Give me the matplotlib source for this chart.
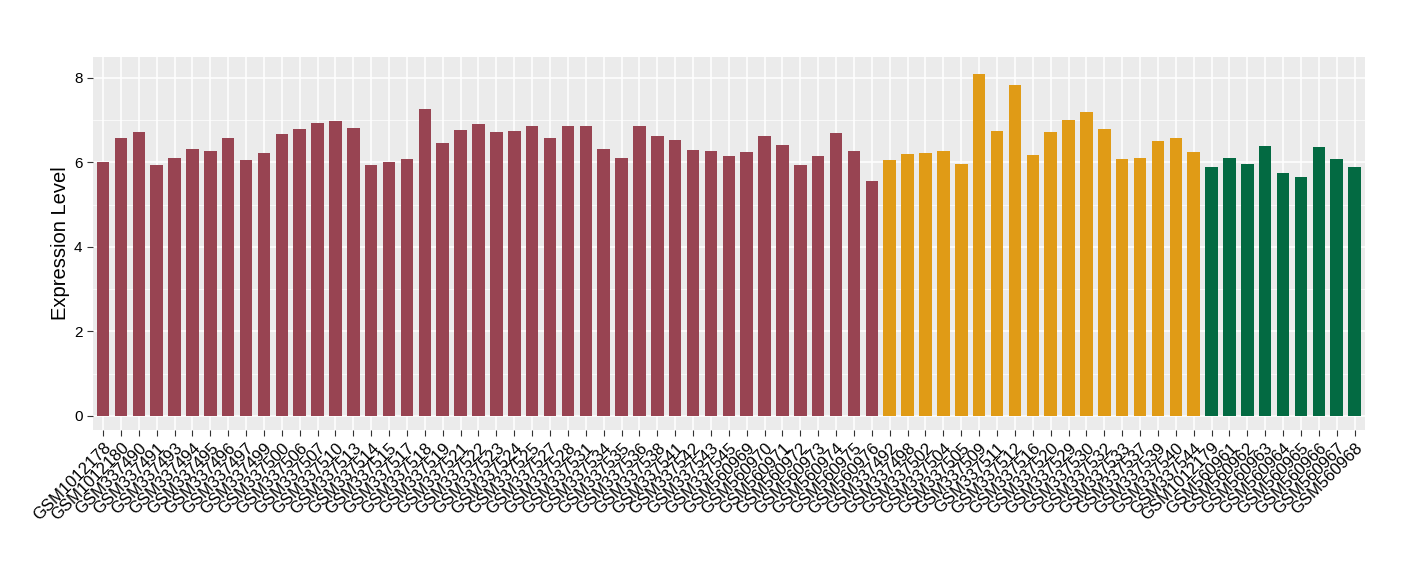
import numpy as np
import matplotlib
matplotlib.use('Agg')
from matplotlib import pyplot as plt
from matplotlib.ticker import MultipleLocator

plt.rcParams['font.family'] = ['Liberation Sans', 'DejaVu Sans']

group1 = ['GSM1012178', 'GSM1012180', 'GSM337490', 'GSM337491', 'GSM337493', 'GSM337494',
          'GSM337495', 'GSM337496', 'GSM337497', 'GSM337499', 'GSM337500', 'GSM337506',
          'GSM337507', 'GSM337510', 'GSM337513', 'GSM337514', 'GSM337515', 'GSM337517',
          'GSM337518', 'GSM337519', 'GSM337521', 'GSM337522', 'GSM337523', 'GSM337524',
          'GSM337525', 'GSM337527', 'GSM337528', 'GSM337531', 'GSM337534', 'GSM337535',
          'GSM337536', 'GSM337538', 'GSM337541', 'GSM337542', 'GSM337543', 'GSM337545',
          'GSM560969', 'GSM560970', 'GSM560971', 'GSM560972', 'GSM560973', 'GSM560974',
          'GSM560975', 'GSM560976']
values1 = [6.01, 6.58, 6.72, 5.94, 6.11, 6.32, 6.27, 6.58, 6.06, 6.22, 6.67, 6.79,
           6.93, 6.98, 6.82, 5.94, 6.01, 6.08, 7.27, 6.46, 6.77, 6.91, 6.72, 6.75,
           6.86, 6.58, 6.86, 6.86, 6.32, 6.11, 6.86, 6.63, 6.53, 6.30, 6.27, 6.15,
           6.25, 6.63, 6.41, 5.94, 6.15, 6.70, 6.27, 5.56]

group2 = ['GSM337492', 'GSM337498', 'GSM337502', 'GSM337504', 'GSM337505', 'GSM337509',
          'GSM337511', 'GSM337512', 'GSM337516', 'GSM337520', 'GSM337529', 'GSM337530',
          'GSM337532', 'GSM337533', 'GSM337537', 'GSM337539', 'GSM337540', 'GSM337544']
values2 = [6.06, 6.20, 6.22, 6.27, 5.96, 8.09, 6.75, 7.83, 6.18, 6.72, 7.01, 7.20,
           6.79, 6.08, 6.11, 6.51, 6.58, 6.25]

group3 = ['GSM1012179', 'GSM560961', 'GSM560962', 'GSM560963', 'GSM560964', 'GSM560965',
          'GSM560966', 'GSM560967', 'GSM560968']
values3 = [5.89, 6.11, 5.96, 6.39, 5.75, 5.66, 6.37, 6.08, 5.89]

colors = ['#984452', '#E09B16', '#036A42']

labels = group1 + group2 + group3
values = values1 + values2 + values3
bar_colors = ([colors[0]] * len(group1) + [colors[1]] * len(group2)
              + [colors[2]] * len(group3))
x = np.arange(len(labels))

fig = plt.figure(figsize=(14.2, 5.8), dpi=100)
ax = fig.add_axes([0.0655, 0.259, 0.8955, 0.643])
ax.set_facecolor('#EBEBEB')
ax.bar(x, values, width=0.7, color=bar_colors, zorder=3)

ax.set_xlim(-0.56, len(labels) - 0.44)
ax.set_ylim(-0.33, 8.5)
ax.yaxis.set_major_locator(MultipleLocator(2))
ax.yaxis.set_minor_locator(MultipleLocator(1))
ax.grid(which='major', color='white', linewidth=1.1, zorder=0)
ax.grid(which='minor', axis='y', color='white', linewidth=0.5, zorder=0)
ax.set_axisbelow(True)
for s in ax.spines.values():
    s.set_visible(False)

ax.set_xticks(x)
ax.set_xticklabels(labels, rotation=45, ha='right', rotation_mode='anchor', fontsize=12)
ax.tick_params(axis='both', which='major', color='#333333', length=4, labelcolor='black')
ax.tick_params(axis='y', which='minor', length=0)
ax.tick_params(axis='y', labelsize=11)
ax.set_ylabel('Expression Level', fontsize=14.5, labelpad=3)

fig.savefig('out.png', dpi=100)
